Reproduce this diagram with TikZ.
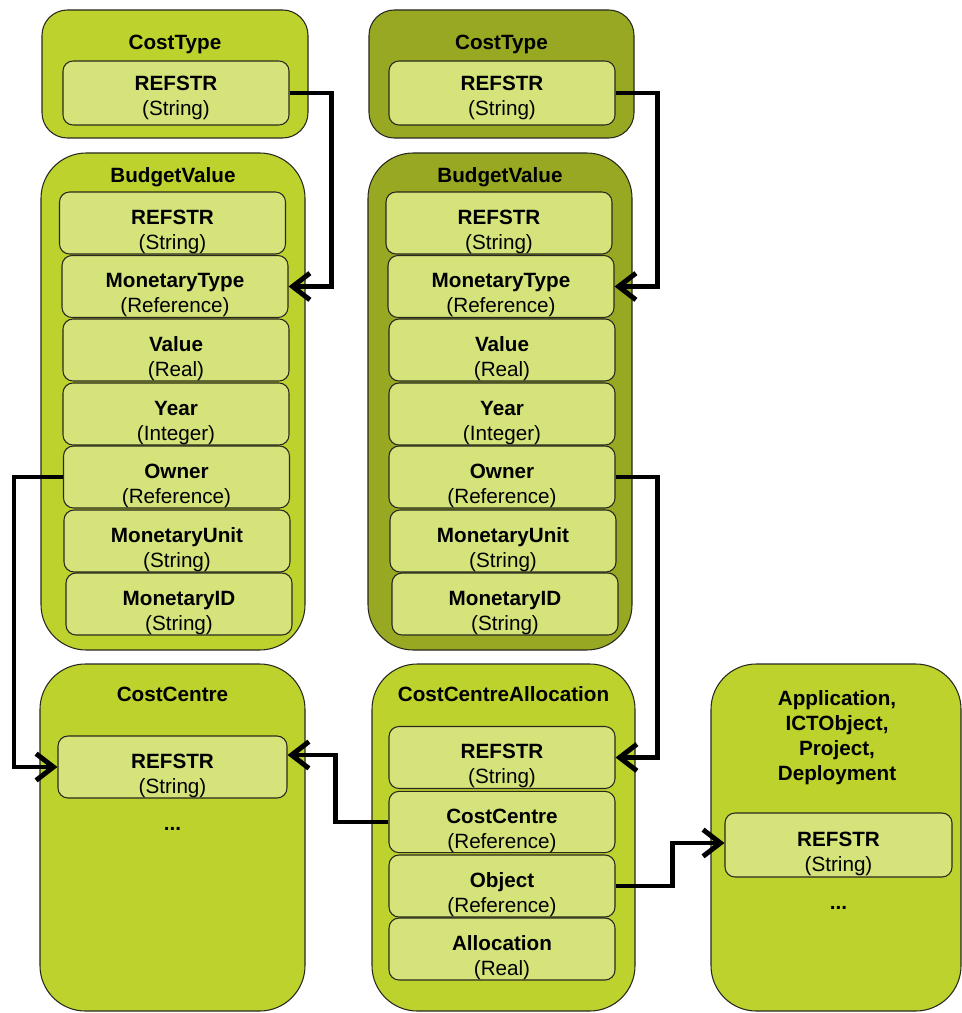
\documentclass[tikz,border=0pt]{standalone}
\usepackage{fontspec}
\setmainfont{Liberation Sans}
\usetikzlibrary{arrows.meta}
\definecolor{outerG}{RGB}{189,210,45}
\definecolor{outerD}{RGB}{152,168,35}
\definecolor{innerG}{RGB}{214,227,122}
\definecolor{edgeC}{RGB}{40,40,30}
\tikzset{
  cont/.style={draw=edgeC, line width=0.8pt, fill=outerG, rounded corners=34pt, inner sep=0pt},
  contsm/.style={cont, rounded corners=19pt},
  dark/.style={fill=outerD},
  field/.style={draw=edgeC, line width=0.8pt, fill=innerG, rounded corners=7.5pt, inner sep=0pt,
     minimum width=169.5pt, minimum height=46.5pt, align=center,
     font=\fontsize{15.5}{18.75}\selectfont},
  ttl/.style={font=\bfseries\fontsize{15.5}{18.75}\selectfont, align=center, inner sep=0pt},
  arr/.style={line width=3.7pt, -{Straight Barb[length=13pt,width=20pt,line width=3.7pt]}}
}
\newcommand\fld[2]{\rule{0pt}{24pt}\textbf{#1}\\#2}
\newcommand\fldt[2]{\rule{0pt}{18.5pt}\textbf{#1}\\#2}
\begin{document}
\begin{tikzpicture}[x=0.75pt,y=-0.75pt]
\useasboundingbox (0,0) rectangle (962,1013);
% containers
\node[contsm, minimum width=199.5pt, minimum height=96pt] (ctL) at (175,74) {};
\node[contsm, dark, minimum width=198.75pt, minimum height=96pt] (ctR) at (501.5,74) {};
\node[cont, minimum width=198pt, minimum height=372.75pt] (bvL) at (173,401.5) {};
\node[cont, dark, minimum width=198pt, minimum height=372.75pt] (bvR) at (500,401.5) {};
\node[cont, minimum width=198.75pt, minimum height=260.25pt] (ccL) at (172.5,837.5) {};
\node[cont, minimum width=197.25pt, minimum height=260.25pt] (cca) at (503.5,837.5) {};
\node[cont, minimum width=187.5pt, minimum height=260.25pt] (app) at (836,837.5) {};
% titles
\node[ttl] (tctL) at (175,44) {CostType};
\node[ttl] (tctR) at (501.5,44) {CostType};
\node[ttl] (tbvL) at (173,177) {BudgetValue};
\node[ttl] (tbvR) at (500,177) {BudgetValue};
\node[ttl] (tccL) at (172.5,694) {CostCentre};
\node[ttl] (tcca) at (503.5,694) {CostCentreAllocation};
\node[ttl] (tapp) at (837,737.5) {Application,\\ICTObject,\\Project,\\Deployment};
% CostType fields
\node[field, minimum height=48pt] (ctLr) at (176,93) {\fldt{REFSTR}{(String)}};
\node[field, minimum height=48pt] (ctRr) at (502,93) {\fldt{REFSTR}{(String)}};
% BudgetValue left
\node[field] (rfL) at (172.5,223) {\fld{REFSTR}{(String)}};
\node[field] (mtL) at (175,286.5) {\fld{MonetaryType}{(Reference)}};
\node[field] (vaL) at (176,350) {\fld{Value}{(Real)}};
\node[field] (yrL) at (176,414) {\fld{Year}{(Integer)}};
\node[field] (owL) at (176.5,477) {\fld{Owner}{(Reference)}};
\node[field] (muL) at (177,541) {\fld{MonetaryUnit}{(String)}};
\node[field] (miL) at (179,604) {\fld{MonetaryID}{(String)}};
% BudgetValue right
\node[field] (rfR) at (499,223) {\fld{REFSTR}{(String)}};
\node[field] (mtR) at (501,286.5) {\fld{MonetaryType}{(Reference)}};
\node[field] (vaR) at (502,350) {\fld{Value}{(Real)}};
\node[field] (yrR) at (502,414) {\fld{Year}{(Integer)}};
\node[field] (owR) at (502,477) {\fld{Owner}{(Reference)}};
\node[field] (muR) at (503,541) {\fld{MonetaryUnit}{(String)}};
\node[field] (miR) at (505,604) {\fld{MonetaryID}{(String)}};
% CostCentre
\node[field, minimum width=171.75pt] (ccR) at (172.5,767) {\fld{REFSTR}{(String)}};
\node[ttl] (ccdots) at (172.5,829) {...};
% CostCentreAllocation
\node[field] (caR) at (502,757.5) {\fld{REFSTR}{(String)}};
\node[field, minimum height=45pt] (caC) at (502,822) {\fld{CostCentre}{(Reference)}};
\node[field] (caO) at (502,886) {\fld{Object}{(Reference)}};
\node[field] (caA) at (502,949) {\fld{Allocation}{(Real)}};
% Application
\node[field, minimum width=170.25pt, minimum height=48pt] (apR) at (838.5,845) {\fld{REFSTR}{(String)}};
\node[ttl] (apdots) at (838.5,908) {...};
% connectors
\draw[arr] (ctLr.east) -- ++(42,0) |- (mtL.east);
\draw[arr] (ctRr.east) -- ++(42,0) |- (mtR.east);
\draw[arr] (owL.west) -- ++(-49,0) |- (ccR.west);
\draw[arr] (owR.east) -- ++(42,0) |- (caR.east);
\draw[arr] (caC.west) -- ++(-53,0) |- ([yshift=9pt]ccR.east);
\draw[arr] (caO.east) -- ++(57,0) |- ([yshift=1.5pt]apR.west);
\end{tikzpicture}
\end{document}
